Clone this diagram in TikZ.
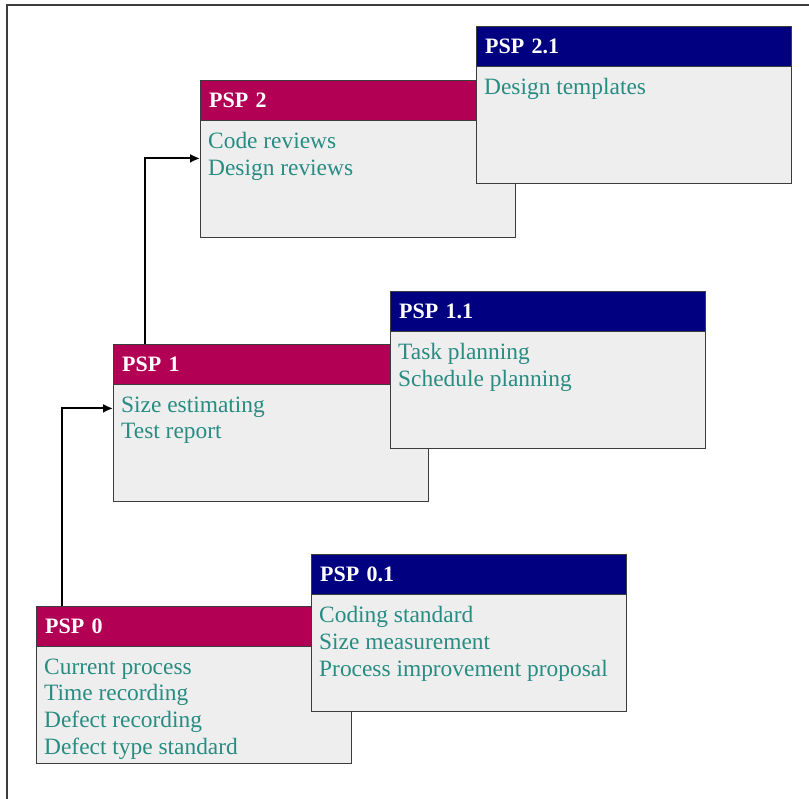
\documentclass[tikz,border=0pt]{standalone}
\usepackage{fontspec}
\setmainfont{Liberation Serif}
\usepackage{tikz}
\usetikzlibrary{arrows.meta,positioning}
\usepackage{xcolor}
\definecolor{pspred}{RGB}{178,0,84}
\definecolor{pspblue}{RGB}{0,0,128}
\definecolor{pspteal}{RGB}{40,140,130}
\definecolor{boxgray}{RGB}{238,238,238}
\definecolor{boxline}{RGB}{60,60,60}

\begin{document}
\begin{tikzpicture}[x=1pt,y=-1pt,
    font=\fontsize{23.4pt}{26.7pt}\selectfont,
    hd/.style={draw=boxline, anchor=north west, minimum width=315pt, minimum height=40pt,
      text width=297pt, inner xsep=9pt, align=left, text=white, font=\fontsize{22pt}{26pt}\selectfont\bfseries},
    bd/.style={draw=boxline, fill=boxgray, anchor=north west, text=pspteal, inner xsep=8pt, inner ysep=12pt,
      execute at begin node={\begin{minipage}[t][93pt][t]{299pt}\raggedright},
      execute at end node={\end{minipage}}},
    link/.style={line width=1.8pt, -{Latex[length=10pt,width=9pt]}}]
    \useasboundingbox (0,0) rectangle (809,799);
    % frame
    \draw[line width=1.2pt, boxline] (7,799) -- (7,5) -- (809,5);
    % boxes: name/x/y/colour/title/items
    \foreach \n/\x/\y/\c/\t/\b in {
      p2/200/80/pspred/PSP 2/{Code reviews\\Design reviews},
      p21/476/26/pspblue/PSP 2.1/{Design templates},
      p1/113/344/pspred/PSP 1/{Size estimating\\Test report},
      p11/390/291/pspblue/PSP 1.1/{Task planning\\Schedule planning},
      p0/36/606/pspred/PSP 0/{Current process\\Time recording\\Defect recording\\Defect type standard},
      p01/311/554/pspblue/PSP 0.1/{Coding standard\\Size measurement\\Process improvement proposal}} {
      \node[hd, fill=\c] (\n-hd) at (\x,\y) {\t};
      \node[bd] (\n-bd) at (\n-hd.south west) {\b};
    }
    % steps up
    \draw[link] ([xshift=26pt]p0-hd.north west) |- ([yshift=-24pt]p1-bd.north west);
    \draw[link] ([xshift=32pt]p1-hd.north west) |- ([yshift=-38pt]p2-bd.north west);
  \end{tikzpicture}
\end{document}
